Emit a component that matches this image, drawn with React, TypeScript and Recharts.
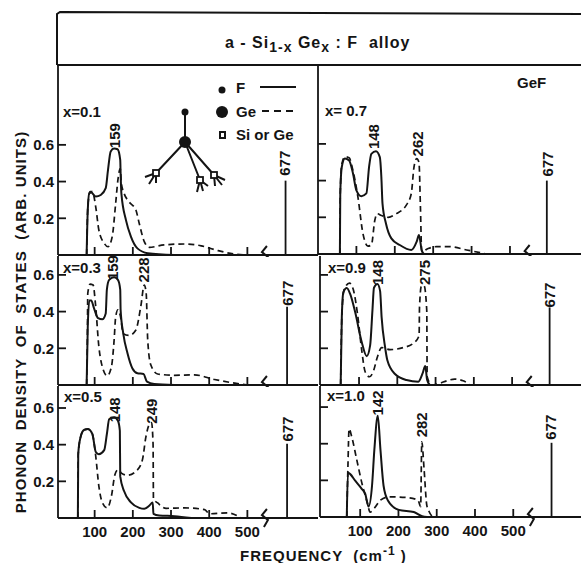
import { LineChart, Line, XAxis, YAxis, ReferenceDot } from "recharts"

const INK = "#141414"
const FONT = '"Liberation Sans", Arial, sans-serif'

const X_TICKS = [100, 200, 300, 400, 500]
const Y_TICKS = [0.2, 0.4, 0.6]
const BREAK_POS = 546

// x = 0.1
const f01Freq = [79, 82, 86, 91, 103, 116, 129, 135, 142, 151, 160, 167, 168, 170, 182, 195, 212, 239, 309]
const f01Dos = [0, 0.245, 0.336, 0.34, 0.318, 0.327, 0.364, 0.464, 0.564, 0.58, 0.576, 0.518, 0.445, 0.336, 0.19, 0.1, 0.036, 0.01, 0]
const ge01Freq = [79, 82, 88, 94, 103, 111, 125, 135, 146, 155, 161, 167, 170, 177, 190, 208, 217, 230, 243, 282, 335, 379, 423, 467, 502]
const ge01Dos = [0, 0.26, 0.345, 0.345, 0.26, 0.136, 0.064, 0.045, 0.1, 0.28, 0.41, 0.47, 0.39, 0.336, 0.29, 0.245, 0.17, 0.073, 0.042, 0.055, 0.06, 0.05, 0.024, 0.005, 0]

// x = 0.3
const f03Freq = [79, 82, 86, 91, 98, 109, 120, 129, 132, 138, 151, 161, 167, 168, 175, 186, 199, 212, 228, 237, 256, 309]
const f03Dos = [0, 0.32, 0.46, 0.46, 0.42, 0.364, 0.358, 0.39, 0.52, 0.573, 0.587, 0.573, 0.52, 0.41, 0.28, 0.173, 0.09, 0.064, 0.06, 0.018, 0.005, 0]
const ge03Freq = [79, 81, 82, 88, 96, 102, 111, 120, 133, 144, 151, 155, 161, 167, 175, 190, 208, 221, 230, 235, 239, 247, 265, 309, 361, 414, 467, 502]
const ge03Dos = [0, 0.28, 0.5, 0.55, 0.545, 0.445, 0.21, 0.1, 0.05, 0.1, 0.245, 0.37, 0.41, 0.38, 0.28, 0.27, 0.3, 0.43, 0.545, 0.5, 0.245, 0.11, 0.06, 0.053, 0.055, 0.03, 0.01, 0]

// x = 0.5
const f05Freq = [56, 57, 63, 72, 82, 94, 103, 111, 125, 132, 138, 151, 161, 166, 167, 177, 195, 217, 230, 243, 252, 254, 269, 309, 353]
const f05Dos = [0, 0.35, 0.44, 0.48, 0.485, 0.458, 0.36, 0.348, 0.37, 0.458, 0.538, 0.55, 0.53, 0.476, 0.227, 0.147, 0.085, 0.055, 0.05, 0.067, 0.085, 0.023, 0.014, 0.01, 0]
const ge05Freq = [56, 57, 63, 72, 82, 94, 103, 111, 120, 133, 144, 153, 161, 170, 186, 208, 225, 234, 243, 249, 253, 254, 265, 287, 335, 388, 401, 449, 484]
const ge05Dos = [0, 0.35, 0.44, 0.48, 0.485, 0.458, 0.334, 0.174, 0.085, 0.055, 0.12, 0.236, 0.263, 0.245, 0.233, 0.254, 0.316, 0.44, 0.51, 0.52, 0.405, 0.103, 0.082, 0.053, 0.055, 0.046, 0.023, 0.028, 0]

// x = 0.7
const f07Freq = [57, 58, 62, 70, 81, 91, 100, 113, 126, 133, 139, 151, 161, 165, 168, 177, 191, 213, 243, 257, 263, 270, 276]
const f07Dos = [0, 0.33, 0.474, 0.52, 0.51, 0.44, 0.347, 0.315, 0.33, 0.474, 0.546, 0.56, 0.528, 0.42, 0.275, 0.166, 0.085, 0.049, 0.022, 0.067, 0.103, 0.022, 0]
const ge07Freq = [57, 58, 62, 70, 81, 91, 104, 117, 130, 139, 148, 154, 165, 183, 204, 230, 243, 250, 257, 263, 267, 270, 287, 309, 343, 387, 439]
const ge07Dos = [0, 0.33, 0.49, 0.53, 0.524, 0.455, 0.31, 0.112, 0.043, 0.049, 0.184, 0.22, 0.21, 0.2, 0.22, 0.266, 0.33, 0.474, 0.52, 0.5, 0.24, 0.012, 0.03, 0.04, 0.04, 0.022, 0]

// x = 0.9
const f09Freq = [52, 55, 59, 68, 77, 90, 107, 120, 129, 135, 139, 148, 155, 159, 168, 174, 194, 224, 255, 266, 273, 278, 285]
const f09Dos = [0, 0.37, 0.505, 0.528, 0.495, 0.396, 0.234, 0.157, 0.216, 0.405, 0.53, 0.55, 0.513, 0.37, 0.207, 0.135, 0.06, 0.027, 0.018, 0.063, 0.103, 0.027, 0]
const ge09Freq = [52, 55, 61, 75, 85, 96, 107, 116, 127, 137, 148, 159, 181, 216, 246, 257, 258, 263, 270, 277, 278, 290, 311, 329, 350, 372, 390]
const ge09Dos = [0, 0.37, 0.52, 0.555, 0.52, 0.387, 0.19, 0.072, 0.045, 0.072, 0.153, 0.204, 0.193, 0.204, 0.234, 0.27, 0.423, 0.54, 0.54, 0.405, 0.045, 0, 0.009, 0.023, 0.032, 0.023, 0]

// x = 1.0
const f10Freq = [65, 68, 74, 87, 104, 113, 122, 131, 137, 146, 153, 161, 172, 201, 240, 262, 275]
const f10Dos = [0, 0.242, 0.234, 0.198, 0.154, 0.127, 0.057, 0.172, 0.366, 0.552, 0.366, 0.172, 0.092, 0.039, 0.027, 0.004, 0]
const ge10Freq = [65, 68, 71, 78, 91, 104, 118, 126, 137, 153, 175, 223, 251, 258, 261, 267, 274, 280, 289]
const ge10Dos = [0, 0.278, 0.481, 0.437, 0.313, 0.189, 0.083, 0.027, 0.048, 0.092, 0.11, 0.106, 0.092, 0.057, 0.41, 0.26, 0.065, 0.03, 0]

// peak annotations: axis position, height of the text centre, text
const peakFreq = [
  [153, 596],
  [146, 228, 604],
  [153, 249, 604],
  [145, 259, 597],
  [148, 270, 597],
  [146, 260, 598],
]
const peakHeight = [
  [0.65, 0.5],
  [0.64, 0.627, 0.5],
  [0.59, 0.583, 0.485],
  [0.64, 0.6, 0.49],
  [0.613, 0.613, 0.49],
  [0.623, 0.503, 0.49],
]
const peakText = [
  ["159", "677"],
  ["159", "228", "677"],
  ["148", "249", "677"],
  ["148", "262", "677"],
  ["148", "275", "677"],
  ["142", "282", "677"],
]

// the 677 line, drawn after the axis break
const linePos = [600, 604, 604, 596, 598, 600]
const lineTop = [0.405, 0.427, 0.405, 0.4, 0.423, 0.405]

const zip = (xs: number[], ys: number[]) => xs.map((x, i) => ({ x, y: ys[i] }))

const SERIES = [
  [f01Freq, f01Dos, ge01Freq, ge01Dos],
  [f03Freq, f03Dos, ge03Freq, ge03Dos],
  [f05Freq, f05Dos, ge05Freq, ge05Dos],
  [f07Freq, f07Dos, ge07Freq, ge07Dos],
  [f09Freq, f09Dos, ge09Freq, ge09Dos],
  [f10Freq, f10Dos, ge10Freq, ge10Dos],
]

// placement of the six plots on the page
const LAYOUT = [
  { left: 0, spine: 58, right: 318, top: 65, bottom: 255, xMin: 4, xMax: 685, yMax: 1.035 },
  { left: 0, spine: 58, right: 318, top: 256, bottom: 385, xMin: 4, xMax: 685, yMax: 0.703 },
  { left: 0, spine: 58, right: 318, top: 386, bottom: 518, xMin: 4, xMax: 685, yMax: 0.72 },
  { left: 317, spine: 318, right: 581, top: 65, bottom: 254, xMin: 0, xMax: 685, yMax: 1.03 },
  { left: 319, spine: 320, right: 581, top: 256, bottom: 385, xMin: -2, xMax: 680, yMax: 0.703 },
  { left: 319, spine: 320, right: 581, top: 386, bottom: 517, xMin: -5, xMax: 677, yMax: 0.715 },
]

const PeakLabel = ({ cx, cy, text }: { cx?: number; cy?: number; text: string }) => (
  <text
    x={cx}
    y={cy}
    textAnchor="middle"
    dominantBaseline="central"
    transform={`rotate(-90 ${cx} ${cy})`}
    fontFamily={FONT}
    fontWeight={700}
    fontSize={15}
    fill={INK}
  >
    {text}
  </text>
)

const AxisBreak = ({ cx = 0, cy = 0 }: { cx?: number; cy?: number }) => (
  <path
    d={`M${cx + 2} ${cy - 9} L${cx - 3} ${cy - 3} L${cx + 3} ${cy + 2} L${cx - 1} ${cy + 9}`}
    fill="none"
    stroke={INK}
    strokeWidth={2}
  />
)

// ticks point into the plot
const XTickMark = ({ cx = 0, cy = 0 }: { cx?: number; cy?: number }) => (
  <path d={`M${cx} ${cy} L${cx} ${cy - 8}`} fill="none" stroke={INK} strokeWidth={1.8} />
)
const YTickMark = ({ cx = 0, cy = 0 }: { cx?: number; cy?: number }) => (
  <path d={`M${cx} ${cy} L${cx + 8} ${cy}`} fill="none" stroke={INK} strokeWidth={1.8} />
)

const tickStyle = { fill: INK, fontFamily: FONT, fontWeight: 700, fontSize: 15 }

function Panel({ index }: { index: number }) {
  const box = LAYOUT[index]
  const [fx, fy, gx, gy] = SERIES[index]
  const hasXLabels = index === 2 || index === 5
  const hasYLabels = index < 3
  const axisArea = hasXLabels ? 32 : 2
  const spike = [
    { x: linePos[index], y: 0 },
    { x: linePos[index], y: lineTop[index] },
  ]

  return (
    <div style={{ position: "absolute", left: box.left, top: box.top }}>
      <LineChart
        width={box.right - box.left}
        height={box.bottom - box.top + axisArea}
        margin={{ top: 0, right: 0, bottom: 0, left: 0 }}
        style={{ overflow: "visible" }}
      >
        <XAxis
          dataKey="x"
          type="number"
          domain={[box.xMin, box.xMax]}
          ticks={X_TICKS}
          allowDataOverflow
          height={axisArea}
          interval={0}
          stroke={INK}
          strokeWidth={1.8}
          tickLine={false}
          tickSize={0}
          tickMargin={8}
          tickFormatter={(v: number) => (hasXLabels ? String(v) : "")}
          tick={tickStyle}
        />
        <YAxis
          type="number"
          domain={[0, box.yMax]}
          ticks={Y_TICKS}
          allowDataOverflow
          width={box.spine - box.left}
          interval={0}
          stroke={INK}
          strokeWidth={1.8}
          tickLine={false}
          tickSize={0}
          tickMargin={4}
          tickFormatter={(v: number) => (hasYLabels ? v.toFixed(1) : "")}
          tick={tickStyle}
        />
        {X_TICKS.map((t) => (
          <ReferenceDot key={t} x={t} y={0} ifOverflow="visible" shape={(p: any) => <XTickMark cx={p.cx} cy={p.cy} />} />
        ))}
        {Y_TICKS.map((t) => (
          <ReferenceDot key={t} x={box.xMin} y={t} ifOverflow="visible" shape={(p: any) => <YTickMark cx={p.cx} cy={p.cy} />} />
        ))}
        <Line
          data={zip(fx, fy)}
          dataKey="y"
          type="monotone"
          stroke={INK}
          strokeWidth={2}
          dot={false}
          isAnimationActive={false}
        />
        <Line
          data={zip(gx, gy)}
          dataKey="y"
          type="monotone"
          stroke={INK}
          strokeWidth={1.7}
          strokeDasharray="6 4"
          dot={false}
          isAnimationActive={false}
        />
        <Line
          data={spike}
          dataKey="y"
          type="linear"
          stroke={INK}
          strokeWidth={1.8}
          dot={false}
          isAnimationActive={false}
        />
        <ReferenceDot x={BREAK_POS} y={0} ifOverflow="visible" shape={(p: any) => <AxisBreak cx={p.cx} cy={p.cy} />} />
        {peakText[index].map((text, i) => (
          <ReferenceDot
            key={text + i}
            x={peakFreq[index][i]}
            y={peakHeight[index][i]}
            ifOverflow="visible"
            shape={(p: any) => <PeakLabel cx={p.cx} cy={p.cy} text={text} />}
          />
        ))}
      </LineChart>
    </div>
  )
}

const txt = { fontFamily: FONT, fontWeight: 700, fill: INK, style: { whiteSpace: "pre" } } as const

function Annotations() {
  return (
    <svg width={581} height={563} style={{ position: "absolute", left: 0, top: 0, pointerEvents: "none" }}>
      {/* frame and header */}
      <path d="M57 65 L57 14 L60 12 L581 14" fill="none" stroke={INK} strokeWidth={2} />
      <line x1={57} y1={65} x2={581} y2={65} stroke={INK} strokeWidth={2} />

      <text x={225} y={48} fontSize={16} letterSpacing={1} {...txt}>
        a - Si
        <tspan fontSize={14} dy={4}>1-x</tspan>
        <tspan dy={-4}> Ge</tspan>
        <tspan fontSize={14} dy={4}>x</tspan>
        <tspan dy={-4}> : F  alloy</tspan>
      </text>

      {/* panel names */}
      <text x={63} y={117} fontSize={15} {...txt}>x=0.1</text>
      <text x={325} y={116} fontSize={15} {...txt}>x= 0.7</text>
      <text x={63} y={273} fontSize={15} {...txt}>x=0.3</text>
      <text x={328} y={273} fontSize={15} {...txt}>x=0.9</text>
      <text x={64} y={402} fontSize={15} {...txt}>x=0.5</text>
      <text x={327} y={401} fontSize={15} {...txt}>x=1.0</text>
      <text x={517} y={88} fontSize={15} {...txt}>GeF</text>

      {/* legend */}
      <circle cx={222} cy={90} r={3.5} fill={INK} />
      <text x={236} y={93} fontSize={15} {...txt}>F</text>
      <line x1={260} y1={87} x2={296} y2={87} stroke={INK} strokeWidth={2} />
      <circle cx={222} cy={112} r={6} fill={INK} />
      <text x={236} y={117} fontSize={15} {...txt}>Ge</text>
      <line x1={262} y1={111} x2={298} y2={111} stroke={INK} strokeWidth={2} strokeDasharray="7 5" />
      <rect x={220} y={132} width={5} height={6} fill="#fff" stroke={INK} strokeWidth={2} />
      <text x={236} y={140} fontSize={15} {...txt}>Si or Ge</text>

      {/* GeF cluster sketch */}
      <g stroke={INK} strokeWidth={2} fill="none">
        <path d="M185 112 L185 142 L156 173 M185 142 L200 180 M185 142 L214 175" />
        <path d="M156 173 L145 177 M156 173 L149 184 M156 173 L156 183" />
        <path d="M200 180 L197 192 M200 180 L203 191 M200 180 L208 186" />
        <path d="M214 175 L225 180 M214 175 L222 185 M214 175 L215 186" />
      </g>
      <circle cx={185} cy={112} r={3.5} fill={INK} />
      <circle cx={185} cy={142} r={6} fill={INK} />
      <rect x={153} y={170} width={6} height={6} fill="#fff" stroke={INK} strokeWidth={1.8} />
      <rect x={197} y={177} width={6} height={6} fill="#fff" stroke={INK} strokeWidth={1.8} />
      <rect x={211} y={172} width={6} height={6} fill="#fff" stroke={INK} strokeWidth={1.8} />

      {/* axis titles */}
      <text
        x={20}
        y={322}
        textAnchor="middle"
        dominantBaseline="central"
        fontSize={15}
        letterSpacing={1.1}
        transform="rotate(-90 20 322)"
        {...txt}
      >
        PHONON  DENSITY  OF  STATES  (ARB. UNITS)
      </text>
      <text x={240} y={561} fontSize={15} letterSpacing={1} {...txt}>
        FREQUENCY  (cm
        <tspan fontSize={12} dy={-6}>-1</tspan>
        <tspan dy={6}> )</tspan>
      </text>
    </svg>
  )
}

export default function App() {
  return (
    <div style={{ position: "absolute", left: 0, top: 0, width: 581, height: 563, background: "#fff", overflow: "hidden" }}>
      {LAYOUT.map((_, i) => (
        <Panel key={i} index={i} />
      ))}
      <Annotations />
    </div>
  )
}
